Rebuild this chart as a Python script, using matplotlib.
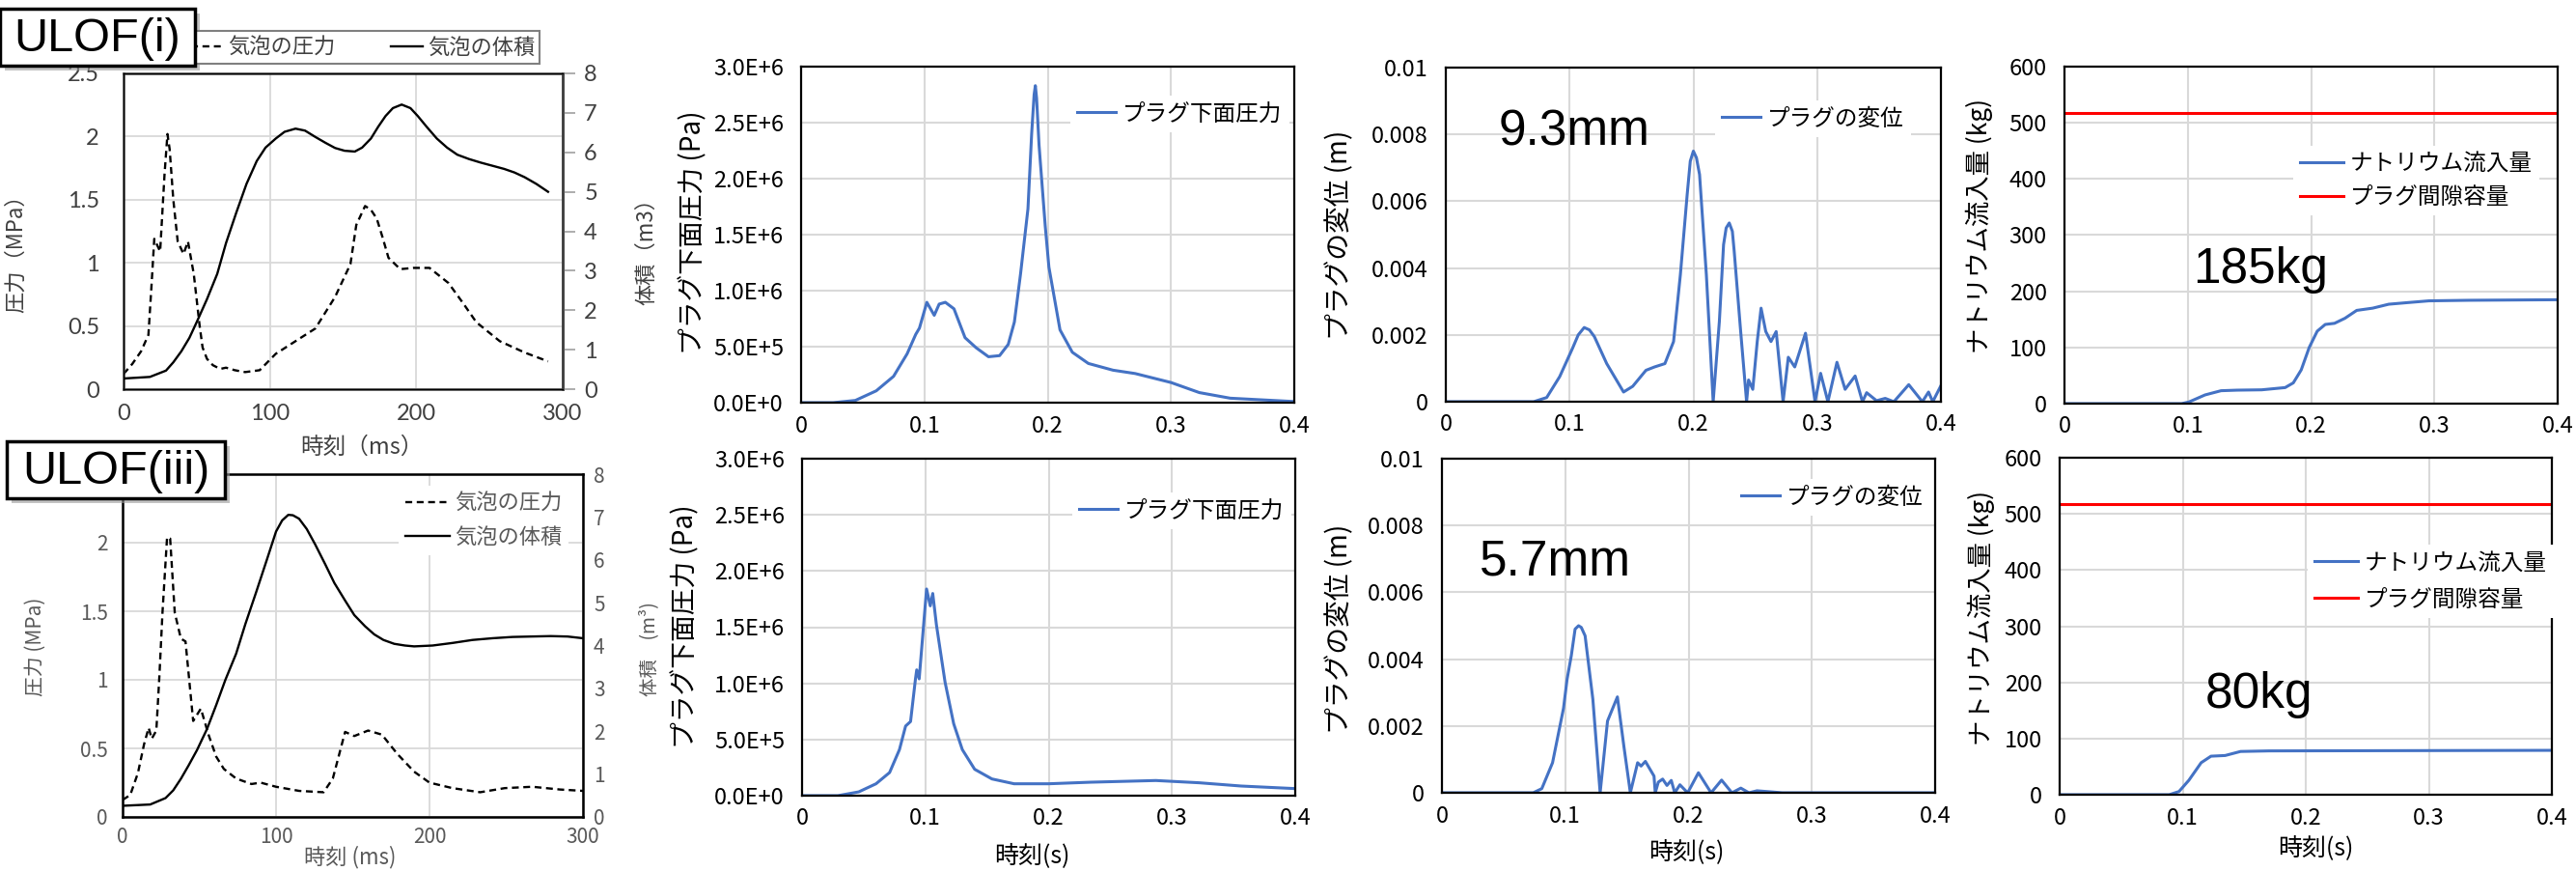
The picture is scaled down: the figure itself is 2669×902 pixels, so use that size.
import matplotlib.pyplot as plt
from matplotlib.patches import Rectangle

W, H = 2669, 902
JP = ['Noto Sans CJK JP', 'DejaVu Sans']
plt.rcParams['font.family'] = JP
plt.rcParams['axes.unicode_minus'] = False

BLUE = '#4472c4'
RED = '#ff0000'
GRID = '#d9d9d9'
GRAY = '#595959'

# ---- ULOF(i) bubble: pressure (MPa) and volume (m3) vs time (ms)
ti_p = [0, 6, 12, 17, 19, 21, 25, 28, 30, 31.5, 34, 37, 41, 44, 48, 52, 54, 57, 61, 66, 70,
        76, 83, 93, 104, 117.5, 131, 144.5, 155, 159, 165, 169, 173, 177, 181, 189, 198, 209,
        222, 232, 241, 257, 274, 290]
pi_p = [0.12, 0.2, 0.3, 0.43, 0.8, 1.19, 1.09, 1.7, 2.02, 1.9, 1.5, 1.17, 1.07, 1.17, 0.91,
        0.5, 0.33, 0.24, 0.19, 0.16, 0.17, 0.15, 0.135, 0.15, 0.28, 0.38, 0.48, 0.73, 0.99,
        1.30, 1.45, 1.42, 1.35, 1.2, 1.04, 0.95, 0.96, 0.96, 0.84, 0.68, 0.53, 0.38, 0.29, 0.22]
ti_v = [0, 18, 29, 34, 39.5, 45, 50, 57, 64, 70, 77, 84, 91, 97, 104, 110, 117.5, 124, 131,
        138, 144.5, 151, 158, 163, 169, 174, 179, 184, 190, 196, 201, 207, 214, 221, 228, 236,
        244, 252, 260, 267, 274, 282, 290]
vi_v = [0.27, 0.31, 0.47, 0.68, 0.96, 1.3, 1.70, 2.28, 2.92, 3.7, 4.47, 5.2, 5.78, 6.12,
        6.35, 6.52, 6.60, 6.55, 6.39, 6.24, 6.11, 6.04, 6.02, 6.12, 6.35, 6.65, 6.92, 7.12,
        7.21, 7.12, 6.92, 6.65, 6.35, 6.12, 5.94, 5.83, 5.74, 5.66, 5.58, 5.49, 5.37, 5.2, 5.00]

# ---- ULOF(iii) bubble
tiii_p = [0, 5, 10, 14, 17, 19, 22, 24, 26, 29, 31, 34, 38, 41, 46, 51, 56, 61, 66, 74, 84,
          90, 100, 115, 131, 137, 145, 151, 160, 169, 179, 190, 200, 215, 233, 249, 267, 285, 300]
piii_p = [0.124, 0.16, 0.32, 0.53, 0.65, 0.57, 0.63, 1.03, 1.49, 2.04, 2.03, 1.49, 1.30, 1.28,
          0.70, 0.79, 0.60, 0.44, 0.35, 0.28, 0.24, 0.25, 0.22, 0.19, 0.18, 0.28, 0.62, 0.59,
          0.63, 0.60, 0.46, 0.33, 0.25, 0.21, 0.18, 0.21, 0.22, 0.20, 0.19]
tiii_v = [0, 18, 28, 33, 38, 43, 48.5, 55, 61, 67, 74, 80, 87, 94, 100, 104, 108, 111, 115,
          120, 125.5, 132, 138, 145, 151, 158, 164, 170, 177, 184, 190, 202, 215, 228, 241,
          254, 266, 279, 290, 300]
viii_v = [0.26, 0.29, 0.44, 0.62, 0.89, 1.2, 1.56, 2.05, 2.61, 3.2, 3.81, 4.5, 5.24, 6.0, 6.66,
          6.92, 7.05, 7.04, 6.96, 6.72, 6.36, 5.9, 5.46, 5.05, 4.71, 4.45, 4.26, 4.13, 4.04,
          4.0, 3.98, 4.00, 4.06, 4.13, 4.17, 4.20, 4.21, 4.22, 4.21, 4.17]

# ---- plug bottom pressure (Pa) vs time (s)
t_pa_i = [0, 0.026, 0.044, 0.061, 0.075, 0.086, 0.093, 0.096, 0.102, 0.108, 0.112, 0.117,
          0.124, 0.133, 0.142, 0.152, 0.161, 0.168, 0.173, 0.178, 0.184, 0.187, 0.189, 0.19,
          0.191, 0.193, 0.198, 0.201, 0.21, 0.22, 0.233, 0.253, 0.271, 0.3, 0.323, 0.348, 0.4]
pa_i = [0, 0, 0.02e6, 0.106e6, 0.235e6, 0.436e6, 0.61e6, 0.666e6, 0.896e6, 0.78e6, 0.88e6,
        0.896e6, 0.838e6, 0.58e6, 0.49e6, 0.41e6, 0.42e6, 0.52e6, 0.72e6, 1.15e6, 1.73e6,
        2.4e6, 2.75e6, 2.83e6, 2.72e6, 2.3e6, 1.58e6, 1.21e6, 0.65e6, 0.45e6, 0.35e6, 0.29e6,
        0.26e6, 0.18e6, 0.09e6, 0.04e6, 0.01e6]
t_pa_iii = [0, 0.029, 0.046, 0.06, 0.071, 0.079, 0.084, 0.088, 0.092, 0.093, 0.095, 0.098,
            0.101, 0.104, 0.106, 0.109, 0.116, 0.123, 0.13, 0.14, 0.154, 0.172, 0.2, 0.234,
            0.287, 0.322, 0.356, 0.4]
pa_iii = [0, 0, 0.034e6, 0.106e6, 0.206e6, 0.41e6, 0.62e6, 0.66e6, 1.04e6, 1.12e6, 1.04e6,
          1.44e6, 1.84e6, 1.69e6, 1.80e6, 1.52e6, 1.01e6, 0.64e6, 0.41e6, 0.235e6, 0.149e6,
          0.106e6, 0.106e6, 0.12e6, 0.135e6, 0.115e6, 0.086e6, 0.063e6]

# ---- plug displacement (m)
t_d_i = [0, 0.071, 0.0815, 0.092, 0.1024, 0.107, 0.1118, 0.116, 0.12, 0.13, 0.1436, 0.151,
         0.1617, 0.1686, 0.177, 0.184, 0.1895, 0.195, 0.1975, 0.2, 0.2025, 0.205, 0.2105, 0.216,
         0.221, 0.2244, 0.2265, 0.229, 0.2315, 0.233, 0.238, 0.243, 0.2446, 0.248, 0.2516,
         0.2547, 0.2585, 0.2627, 0.2669, 0.2725, 0.2767, 0.2819, 0.2906, 0.2983, 0.3028,
         0.3087, 0.316, 0.3226, 0.3307, 0.3366, 0.34, 0.348, 0.355, 0.362, 0.374, 0.385, 0.39,
         0.3934, 0.4]
d_i = [0, 0, 0.000125, 0.00075, 0.0016, 0.002, 0.00222, 0.00215, 0.00195, 0.00114, 0.00029,
       0.00046, 0.00094, 0.00104, 0.00114, 0.0018, 0.0038, 0.0062, 0.0072, 0.0075, 0.0073,
       0.0068, 0.0038, 0.0, 0.0024, 0.0047, 0.0052, 0.00535, 0.0051, 0.0045, 0.0022, 0,
       0.00065, 0.00037, 0.0018, 0.0028, 0.0021, 0.0018, 0.0021, 0, 0.00133, 0.00104, 0.00205,
       0, 0.00085, 0, 0.00118, 0.00037, 0.00077, 0, 0.00027, 0.00003, 0.0001, 0, 0.00051, 0,
       0.00029, 0, 0.00048]
t_d_iii = [0, 0.074, 0.081, 0.0897, 0.0986, 0.1015, 0.1049, 0.108, 0.1108, 0.113, 0.1161,
           0.1224, 0.1283, 0.1343, 0.1423, 0.1476, 0.1528, 0.1587, 0.1615, 0.165, 0.172, 0.173,
           0.1755, 0.179, 0.1825, 0.186, 0.1888, 0.193, 0.1993, 0.208, 0.2183, 0.2268, 0.2352,
           0.2424, 0.249, 0.2555, 0.266, 0.276, 0.4]
d_iii = [0, 0, 0.000125, 0.0009, 0.00253, 0.0034, 0.0041, 0.0049, 0.005, 0.00495, 0.0047,
         0.0028, 0, 0.00215, 0.00287, 0.00138, 0, 0.0009, 0.0008, 0.00094, 0.0005, 0, 0.00032,
         0.00041, 0.00022, 0.00037, 0, 0.00024, 0, 0.0006, 0, 0.00038, 0, 0.00014, 0, 0.00006,
         0.00003, 0, 0]

# ---- sodium inflow (kg) and plug gap capacity
t_na_i = [0, 0.095, 0.101, 0.114, 0.127, 0.14, 0.16, 0.179, 0.1856, 0.192, 0.1985, 0.205,
          0.2115, 0.219, 0.2275, 0.237, 0.25, 0.263, 0.279, 0.2955, 0.328, 0.4]
na_i = [0, 0, 3, 15.5, 23, 24, 24.6, 28.6, 37, 60, 100, 129, 141, 143, 152, 166, 170, 177,
        180, 183, 184, 185]
t_na_iii = [0, 0.089, 0.097, 0.105, 0.115, 0.123, 0.1345, 0.147, 0.17, 0.4]
na_iii = [0, 0, 5.7, 25.7, 57, 68.6, 69.8, 77, 78, 79]
gap_t = [0, 0.4]
gap_kg = [518, 518]

t_ticks = [0, 0.1, 0.2, 0.3, 0.4]
t_labels = ['0', '0.1', '0.2', '0.3', '0.4']
pa_ticks = [0, 5e5, 1e6, 1.5e6, 2e6, 2.5e6, 3e6]
pa_labels = ['0.0E+0', '5.0E+5', '1.0E+6', '1.5E+6', '2.0E+6', '2.5E+6', '3.0E+6']
d_ticks = [0, 0.002, 0.004, 0.006, 0.008, 0.01]
d_labels = ['0', '0.002', '0.004', '0.006', '0.008', '0.01']
kg_ticks = [0, 100, 200, 300, 400, 500, 600]
ms_ticks = [0, 100, 200, 300]
mpa_ticks = [0, 0.5, 1, 1.5, 2, 2.5]
mpa_labels = ['0', '0.5', '1', '1.5', '2', '2.5']
mpa_labels_iii = ['0', '0.5', '1', '1.5', '2', '']  # 2.5 sits under the case box
m3_ticks = [0, 1, 2, 3, 4, 5, 6, 7, 8]


def rect(x0, y0, x1, y1):
    return [x0 / W, 1 - y1 / H, (x1 - x0) / W, (y1 - y0) / H]


def fx(x):
    return x / W


def fy(y):
    return 1 - y / H


fig = plt.figure(figsize=(W / 100, H / 100), dpi=100)


def excel_axes(box, ylim, yticks, ylabels):
    ax = fig.add_axes(rect(*box))
    ax.set_xlim(0, 0.4)
    ax.set_ylim(*ylim)
    ax.set_xticks(t_ticks)
    ax.set_xticklabels(t_labels)
    ax.set_yticks(yticks)
    ax.set_yticklabels(ylabels)
    ax.grid(color=GRID, lw=1.5)
    ax.set_axisbelow(True)
    ax.tick_params(axis='y', length=0, labelsize=17, pad=13)
    ax.tick_params(axis='x', length=0, labelsize=17, pad=9)
    for s in ax.spines.values():
        s.set_linewidth(1.6)
        s.set_color('black')
    return ax


def one_legend(ax, x, y):
    ax.legend(loc='center left', bbox_to_anchor=(fx(x), fy(y)), bbox_transform=fig.transFigure,
              fontsize=17, handlelength=1.7, handletextpad=0.3, borderpad=0.3,
              frameon=True, facecolor='white', edgecolor='none', framealpha=1, fancybox=False)


def two_legend(ax, x, y, spacing):
    ax.legend(loc='center left', bbox_to_anchor=(fx(x), fy(y)), bbox_transform=fig.transFigure,
              fontsize=17, handlelength=1.9, handletextpad=0.3, borderpad=0.3,
              labelspacing=spacing, frameon=True, facecolor='white', edgecolor='none',
              framealpha=1, fancybox=False)


# ======== ULOF(i) bubble panel ========
a1 = fig.add_axes(rect(128, 76, 583, 403))
a1.set_xlim(0, 300)
a1.set_ylim(0, 2.5)
a1.set_xticks(ms_ticks)
a1.set_yticks(mpa_ticks)
a1.set_yticklabels(mpa_labels)
a1.grid(color=GRID, lw=1.3)
a1.set_axisbelow(True)
for s in a1.spines.values():
    s.set_color('#404040')
    s.set_linewidth(1.8)
a1.tick_params(length=0, labelsize=17, colors='#404040')
a1.tick_params(axis='y', pad=18)
a1.tick_params(axis='x', pad=11)
for lab in a1.get_xticklabels() + a1.get_yticklabels():
    lab.set_family('Lato')
lp1, = a1.plot(ti_p, pi_p, color='black', lw=1.7, ls=(0, (3, 2)))
a1r = a1.twinx()
a1r.set_ylim(0, 8)
a1r.set_yticks(m3_ticks)
a1r.tick_params(axis='y', direction='out', length=9, width=1.2, color='#a0a0a0',
                labelsize=17, labelcolor='#404040', pad=7)
for lab in a1r.get_yticklabels():
    lab.set_family('Lato')
a1r.spines['right'].set_color('#404040')
a1r.spines['right'].set_linewidth(1.8)
lv1, = a1r.plot(ti_v, vi_v, color='black', lw=1.7)
leg1 = fig.legend([lp1, lv1], ['気泡の圧力', '気泡の体積'], ncol=2, loc='center',
                  bbox_to_anchor=(fx(376), fy(49)), fontsize=16, handlelength=1.5,
                  handletextpad=0.2, columnspacing=2.6, borderpad=0.25, fancybox=False,
                  edgecolor='#808080', framealpha=1)
leg1.get_frame().set_linewidth(1.5)
for t in leg1.get_texts():
    t.set_color('#404040')
fig.text(fx(17), fy(257), '圧力（MPa）', rotation=90, ha='center', va='center',
         fontsize=16, color='#404040')
fig.text(fx(670), fy(255), '体積（m3）', rotation=90, ha='center', va='center',
         fontsize=16, color='#404040')
fig.text(fx(375), fy(463), '時刻（ms）', ha='center', va='center', fontsize=17, color='#404040')

# ======== ULOF(iii) bubble panel ========
a5 = fig.add_axes(rect(127, 491, 604, 846))
a5.set_xlim(0, 300)
a5.set_ylim(0, 2.5)
a5.set_xticks(ms_ticks)
a5.set_yticks(mpa_ticks)
a5.set_yticklabels(mpa_labels_iii)
a5.grid(color=GRID, lw=1.3)
a5.set_axisbelow(True)
for s in a5.spines.values():
    s.set_color('black')
    s.set_linewidth(1.8)
a5.tick_params(length=0, labelsize=15, colors=GRAY)
a5.tick_params(axis='y', pad=11)
a5.tick_params(axis='x', pad=7)
lp5, = a5.plot(tiii_p, piii_p, color='black', lw=1.7, ls=(0, (3, 2)))
a5r = a5.twinx()
a5r.set_ylim(0, 8)
a5r.set_yticks(m3_ticks)
a5r.tick_params(axis='y', length=0, labelsize=15, labelcolor=GRAY, pad=8)
lv5, = a5r.plot(tiii_v, viii_v, color='black', lw=1.7)
leg5 = a5r.legend([lp5, lv5], ['気泡の圧力', '気泡の体積'], loc='center left',
                  bbox_to_anchor=(fx(402), fy(539)), bbox_transform=fig.transFigure,
                  fontsize=16, handlelength=2.1, handletextpad=0.2, labelspacing=0.55,
                  borderpad=0.3, frameon=True, facecolor='white', edgecolor='none',
                  framealpha=1, fancybox=False)
for t in leg5.get_texts():
    t.set_color(GRAY)
fig.text(fx(37), fy(670), '圧力 (MPa)', rotation=90, ha='center', va='center',
         fontsize=15, color=GRAY)
fig.text(fx(673), fy(672), '体積　(m³)', rotation=90, ha='center', va='center',
         fontsize=14, color=GRAY)
fig.text(fx(363), fy(888), '時刻 (ms)', ha='center', va='center', fontsize=16, color=GRAY)

# ======== plug bottom pressure ========
a2 = excel_axes((830, 69, 1341, 417), (0, 3e6), pa_ticks, pa_labels)
a2.plot(t_pa_i, pa_i, color=BLUE, lw=2.2, label='プラグ下面圧力')
one_legend(a2, 1097, 118)
fig.text(fx(718), fy(241), 'プラグ下面圧力 (Pa)', rotation=90, ha='center', va='center',
         fontsize=20)

a6 = excel_axes((831, 475, 1342, 824), (0, 3e6), pa_ticks, pa_labels)
a6.plot(t_pa_iii, pa_iii, color=BLUE, lw=2.2, label='プラグ下面圧力')
one_legend(a6, 1099, 529)
fig.text(fx(710), fy(649), 'プラグ下面圧力 (Pa)', rotation=90, ha='center', va='center',
         fontsize=20)
fig.text(fx(1069), fy(886), '時刻(s)', ha='center', va='center', fontsize=18)

# ======== plug displacement ========
a3 = excel_axes((1498, 70, 2011, 416), (0, 0.01), d_ticks, d_labels)
a3.plot(t_d_i, d_i, color=BLUE, lw=2.2, label='プラグの変位')
one_legend(a3, 1765, 123)
fig.text(fx(1388), fy(243), 'プラグの変位 (m)', rotation=90, ha='center', va='center',
         fontsize=20)
fig.text(fx(1553), fy(137), '9.3mm', ha='left', va='center', fontsize=37,
         family='Liberation Sans')

a7 = excel_axes((1494, 475, 2005, 821), (0, 0.01), d_ticks, d_labels)
a7.plot(t_d_iii, d_iii, color=BLUE, lw=2.2, label='プラグの変位')
one_legend(a7, 1785, 515)
fig.text(fx(1388), fy(651), 'プラグの変位 (m)', rotation=90, ha='center', va='center',
         fontsize=20)
fig.text(fx(1533), fy(582), '5.7mm', ha='left', va='center', fontsize=37,
         family='Liberation Sans')
fig.text(fx(1747), fy(882), '時刻(s)', ha='center', va='center', fontsize=18)

# ======== sodium inflow ========
a4 = excel_axes((2139, 69, 2650, 418), (0, 600), kg_ticks, [str(v) for v in kg_ticks])
a4.plot(t_na_i, na_i, color=BLUE, lw=2.2, label='ナトリウム流入量')
a4.plot(gap_t, gap_kg, color=RED, lw=2.2, label='プラグ間隙容量')
two_legend(a4, 2364, 187, 0.5)
fig.text(fx(2051), fy(234), 'ナトリウム流入量 (kg)', rotation=90, ha='center', va='center',
         fontsize=19)
fig.text(fx(2272), fy(280), '185kg', ha='left', va='center', fontsize=37,
         family='Liberation Sans')

a8 = excel_axes((2134, 474, 2644, 823), (0, 600), kg_ticks, [str(v) for v in kg_ticks])
a8.plot(t_na_iii, na_iii, color=BLUE, lw=2.2, label='ナトリウム流入量')
a8.plot(gap_t, gap_kg, color=RED, lw=2.2, label='プラグ間隙容量')
two_legend(a8, 2379, 602, 0.65)
fig.text(fx(2053), fy(640), 'ナトリウム流入量 (kg)', rotation=90, ha='center', va='center',
         fontsize=19)
fig.text(fx(2285), fy(720), '80kg', ha='left', va='center', fontsize=37,
         family='Liberation Sans')
fig.text(fx(2399), fy(878), '時刻(s)', ha='center', va='center', fontsize=18)

# ======== case boxes ========
for (x0, y0, x1, y1, name) in [(0, 9, 202, 68, 'ULOF(i)'), (7, 457, 233, 516, 'ULOF(iii)')]:
    fig.patches.append(Rectangle((fx(x0 + 5), fy(y1 + 5)), (x1 - x0) / W, (y1 - y0) / H,
                                 transform=fig.transFigure, facecolor='#9a9a9a',
                                 edgecolor='none', alpha=0.6, zorder=5))
    fig.patches.append(Rectangle((fx(x0), fy(y1)), (x1 - x0) / W, (y1 - y0) / H,
                                 transform=fig.transFigure, facecolor='white',
                                 edgecolor='black', lw=2.5, zorder=6))
    fig.text(fx((x0 + x1) / 2), fy((y0 + y1) / 2 + 2), name, ha='center', va='center',
             fontsize=35, family='Liberation Sans', zorder=7)

fig.savefig('out.png', dpi=100)
